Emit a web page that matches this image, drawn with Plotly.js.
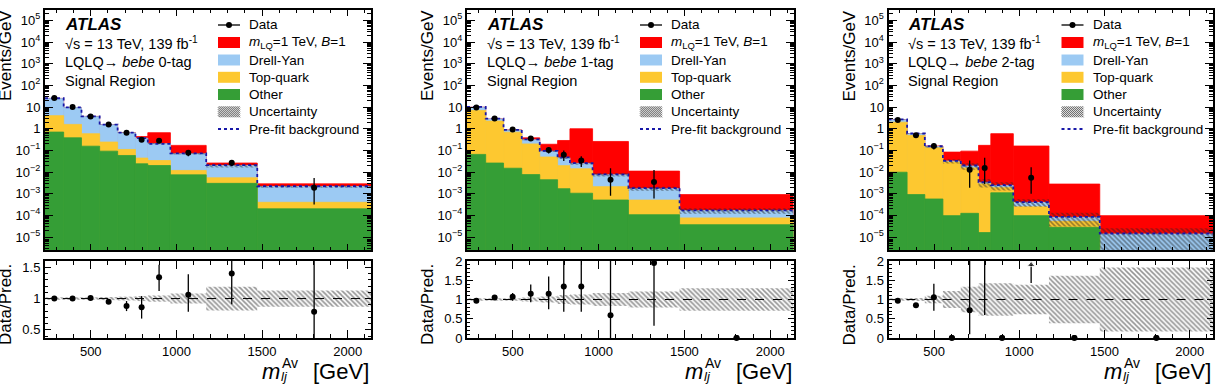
<!DOCTYPE html>
<html>
<head>
<meta charset="utf-8">
<script src="https://cdn.plot.ly/plotly-3.0.1.min.js"></script>
<style>
  html, body { margin: 0; padding: 0; background: #ffffff; }
  #chart { width: 1218px; height: 384px; }
</style>
</head>
<body>
<div id="chart"></div>
<script>
// Average lepton-jet invariant mass in the three b-tag signal regions,
// stacked backgrounds + 1 TeV leptoquark signal, with data/prediction ratio pads.

const binEdges = [233, 342, 446, 552, 657, 761, 833, 965, 1174, 1472, 2136];
const regionNames = ['0-tag', '1-tag', '2-tag'];

// Events/GeV per bin; one row per region (0-tag, 1-tag, 2-tag)
const otherBkg = [
  [0.70, 0.38, 0.156, 0.092, 0.058, 0.024, 0.020, 0.0074, 0.0030, 0.00020],
  [0.065, 0.026, 0.015, 0.0076, 0.0044, 0.0017, 0.00105, 0.00051, 0.000107, 0.000037],
  [0.0098, 0.00091, 0.00057, 0.000097, 0.000124, 0.000016, 0.0011, 0.000097, 0.000028, 0]
];
const topQuark = [
  [3.3, 1.2, 0.43, 0.15, 0.052, 0.020, 0.014, 0.0044, 0.0024, 0.00020],
  [6.9, 2.22, 0.675, 0.19, 0.045, 0.018, 0.013, 0.0016, 0.00040, 0.000039],
  [1.99, 0.489, 0.13, 0.029, 0.0154, 0.0028, 0.0008, 0.00015, 0.000025, 0]
];
const drellYan = [
  [21, 7.9, 3.1, 1.29, 0.54, 0.32, 0.17, 0.058, 0.0146, 0.00174],
  [2.9, 0.55, 0.17, 0.11, 0.042, 0.026, 0.011, 0.0054, 0.0012, 0.000090],
  [0.6, 0.10, 0.02, 0.003, 0.0035, 0.0005, 0.0005, 0.00015, 0.000028, 0.0000138]
];
const signalLQ = [
  [0.0005, 0.001, 0.002, 0.004, 0.01, 0.07, 0.45, 0.10, 0.006, 0.0007],
  [0.005, 0.01, 0.02, 0.07, 0.10, 0.24, 0.97, 0.25, 0.0093, 0.00074],
  [0.002, 0.005, 0.008, 0.051, 0.073, 0.167, 0.588, 0.158, 0.0027, 0.000083]
];
const prefitBkg = [
  [25.5, 9.6, 3.7, 1.55, 0.66, 0.37, 0.20, 0.072, 0.021, 0.0022],
  [10.2, 2.9, 0.88, 0.32, 0.094, 0.047, 0.026, 0.0078, 0.0018, 0.00017],
  [2.7, 0.60, 0.155, 0.033, 0.020, 0.0034, 0.0025, 0.00041, 0.000085, 0.0000145]
];
const bkgRelUnc = [
  [0.02, 0.02, 0.02, 0.025, 0.03, 0.04, 0.05, 0.08, 0.19, 0.13],
  [0.03, 0.03, 0.03, 0.05, 0.08, 0.12, 0.13, 0.17, 0.21, 0.29],
  [0.03, 0.04, 0.10, 0.22, 0.33, 0.42, 0.42, 0.38, 0.62, 0.83]
];
const dataObs = [
  [26, 10, 3.7, 1.55, 0.65, 0.31, 0.28, 0.077, 0.027, 0.00186],
  [9.6, 2.94, 0.92, 0.35, 0.105, 0.062, 0.034, 0.0044, 0.0035, null],
  [2.55, 0.50, 0.16, null, 0.0126, 0.0155, null, 0.0054, null, null]
];
const dataErrUp = [
  [0.5, 0.3, 0.12, 0.08, 0.05, 0.065, 0.042, 0.023, 0.009, 0.0035],
  [0.3, 0.12, 0.09, 0.073, 0.037, 0.037, 0.02, 0.0105, 0.0088, 0],
  [0.08, 0.03, 0.05, 0, 0.021, 0.03, 0, 0.0113, 0, 0]
];
const dataErrDown = [
  [0.5, 0.3, 0.12, 0.08, 0.05, 0.065, 0.042, 0.023, 0.008, 0.00154],
  [0.3, 0.12, 0.09, 0.073, 0.033, 0.03, 0.017, 0.0036, 0.0029, 0],
  [0.08, 0.03, 0.05, 0, 0.0107, 0.0127, 0, 0.0044, 0, 0]
];
const ratioVal = [
  [1.00, 1.00, 1.01, 0.95, 0.88, 0.86, 1.34, 1.06, 1.40, 0.79],
  [0.97, 1.05, 1.07, 1.15, 1.15, 1.34, 1.34, 0.59, 1.95, 0],
  [0.97, 0.85, 1.06, 0, 0.72, 4.7, 0, 13.5, 0, 0]
];
const ratioErrUp = [
  [0.01, 0.015, 0.02, 0.03, 0.08, 0.18, 0.2, 0.33, 0.45, 1.0],
  [0.02, 0.04, 0.1, 0.24, 0.45, 0.8, 0.8, 1.6, 1.0, 0],
  [0.03, 0.06, 0.35, 0, 1.6, 3.0, 0, 10, 0, 0]
];
const ratioErrDown = [
  [0.01, 0.015, 0.02, 0.03, 0.08, 0.18, 0.22, 0.27, 0.49, 0.6],
  [0.02, 0.04, 0.1, 0.22, 0.4, 0.66, 0.66, 0.59, 1.63, 0],
  [0.03, 0.06, 0.35, 0, 0.62, 4.1, 0, 11, 0, 0]
];

// Tick labels
const xTickVals = [500, 1000, 1500, 2000];
const xTickText = ['500', '1000', '1500', '2000'];
const mainTickVals = [1e-5, 1e-4, 1e-3, 1e-2, 1e-1, 1, 10, 1e2, 1e3, 1e4, 1e5];
const mainTickText = ['10<sup>\u22125</sup>', '10<sup>\u22124</sup>', '10<sup>\u22123</sup>', '10<sup>\u22122</sup>',
  '10<sup>\u22121</sup>', '1', '10', '10<sup>2</sup>', '10<sup>3</sup>', '10<sup>4</sup>', '10<sup>5</sup>'];
const ratioTickVals = [[0.5, 1, 1.5], [0, 0.5, 1, 1.5, 2], [0, 0.5, 1, 1.5, 2]];
const ratioTickText = [['0.5', '1', '1.5'], ['0', '0.5', '1', '1.5', '2'], ['0', '0.5', '1', '1.5', '2']];

const legendLabels = ['Data', '<i>m</i><sub>LQ</sub>=1 TeV, <i>B</i>=1', 'Drell-Yan', 'Top-quark',
  'Other', 'Uncertainty', 'Pre-fit background'];

// ---------- geometry & style ----------
const W = 1218, H = 384;
const FONT = '"Liberation Sans", Arial, Helvetica, sans-serif';
const COLORS = { sig: '#ff0000', dy: '#9ccaf3', top: '#fdc830', other: '#359e36',
  prefit: '#1818a8', hatch: '#262626' };
const panelX = [[45, 371], [467, 793.5], [888.5, 1213]];
const mainY = [10, 250], ratioY = [261, 338];
const logRange = [-5.6, 5.48];
const ratioRanges = [[0.37, 1.6], [0, 2], [0, 2]];
const xRange = [binEdges[0], binEdges[binEdges.length - 1]];

const fx = v => v / W;
const fy = v => 1 - v / H;
const centers = binEdges.slice(0, -1).map((e, i) => (e + binEdges[i + 1]) / 2);
const widths = binEdges.slice(0, -1).map((e, i) => binEdges[i + 1] - e);
const add = (a, b) => a.map((v, i) => v + b[i]);
const pos = a => a.map(v => (v > 0 ? v : null));

const minorLog = [];
for (let d = -6; d <= 5; d++) for (let m = 2; m <= 9; m++) minorLog.push(m * Math.pow(10, d));

const traces = [], shapes = [], annotations = [];
const layout = {
  width: W, height: H, margin: { l: 0, r: 0, t: 0, b: 0 },
  paper_bgcolor: '#ffffff', plot_bgcolor: '#ffffff',
  barmode: 'overlay', showlegend: false, hovermode: false,
  font: { family: FONT, color: '#000' }
};

function frameAxis(extra) {
  return Object.assign({
    showline: true, linecolor: '#000', linewidth: 2, mirror: 'allticks',
    ticks: 'inside', tickcolor: '#000', tickwidth: 1,
    showgrid: false, zeroline: false, tickmode: 'array',
    tickfont: { family: FONT, size: 13, color: '#000' }
  }, extra);
}
const sfx = i => (i === 1 ? '' : String(i));

function text(x, y, str, size, opts) {
  annotations.push(Object.assign({
    xref: 'paper', yref: 'paper', x: fx(x), y: fy(y), text: str, showarrow: false,
    xanchor: 'left', yanchor: 'middle', font: { family: FONT, size: size, color: '#000' }
  }, opts || {}));
}

function hatchPath(x0, x1, yTop, yBot, step) {
  const h = yBot - yTop;
  let d = '';
  for (let s = -h; s < (x1 - x0); s += step) {
    let sx = x0 + s, sy = yTop, ex = x0 + s + h, ey = yBot;
    if (sx < x0) { sy += (x0 - sx); sx = x0; }
    if (ex > x1) { ey -= (ex - x1); ex = x1; }
    if (ex <= sx) continue;
    d += 'M' + fx(sx) + ',' + fy(sy) + 'L' + fx(ex) + ',' + fy(ey);
  }
  return d;
}

const hatchMarker = {
  color: 'rgba(0,0,0,0)', line: { width: 0 },
  pattern: { shape: '\\', fgcolor: COLORS.hatch, bgcolor: 'rgba(0,0,0,0)', size: 3.5, solidity: 0.45, fillmode: 'overlay' }
};

regionNames.forEach((region, p) => {
  const mi = 2 * p + 1, ri = 2 * p + 2;
  const xm = 'x' + sfx(mi), ym = 'y' + sfx(mi), xr = 'x' + sfx(ri), yr = 'y' + sfx(ri);
  const [L, R] = panelX[p];
  const dom = [fx(L), fx(R)];
  const rr = ratioRanges[p];

  // axes
  layout['xaxis' + sfx(mi)] = frameAxis({
    domain: dom, range: xRange, anchor: ym, tickvals: xTickVals, ticktext: xTickText,
    showticklabels: false, ticklen: 6,
    minor: { tickmode: 'linear', tick0: 0, dtick: 100, ticklen: 3, ticks: 'inside', tickcolor: '#000' }
  });
  layout['yaxis' + sfx(mi)] = frameAxis({
    type: 'log', domain: [fy(mainY[1]), fy(mainY[0])], range: logRange, anchor: xm,
    tickvals: mainTickVals, ticktext: mainTickText, ticklen: 8,
    minor: { tickmode: 'array', tickvals: minorLog, ticklen: 4, ticks: 'inside', tickcolor: '#000' }
  });
  layout['xaxis' + sfx(ri)] = frameAxis({
    domain: dom, range: xRange, anchor: yr, tickvals: xTickVals, ticktext: xTickText, ticklen: 8,
    minor: { tickmode: 'linear', tick0: 0, dtick: 100, ticklen: 4, ticks: 'inside', tickcolor: '#000' }
  });
  layout['yaxis' + sfx(ri)] = frameAxis({
    domain: [fy(ratioY[1]), fy(ratioY[0])], range: rr, anchor: xr,
    tickvals: ratioTickVals[p], ticktext: ratioTickText[p], ticklen: 6,
    minor: { tickmode: 'linear', tick0: 0, dtick: 0.1, ticklen: 3, ticks: 'inside', tickcolor: '#000' }
  });

  // stacked histograms (cumulative, drawn back to front)
  const c1 = otherBkg[p];
  const c2 = add(c1, topQuark[p]);
  const c3 = add(c2, drellYan[p]);
  const c4 = add(c3, signalLQ[p]);
  [[c4, COLORS.sig], [c3, COLORS.dy], [c2, COLORS.top], [c1, COLORS.other]].forEach(([vals, col]) => {
    traces.push({
      type: 'bar', x: centers, y: pos(vals), width: widths, xaxis: xm, yaxis: ym,
      marker: { color: col, line: { color: col, width: 0.8 } }
    });
  });

  // background uncertainty band
  const u = bkgRelUnc[p];
  traces.push({
    type: 'bar', x: centers, width: widths, xaxis: xm, yaxis: ym,
    base: c3.map((v, i) => (v > 0 ? v * (1 - u[i]) : null)),
    y: c3.map((v, i) => (v > 0 ? 2 * v * u[i] : null)),
    marker: hatchMarker
  });

  // pre-fit background
  const pf = prefitBkg[p];
  traces.push({
    type: 'scatter', mode: 'lines', x: binEdges, y: pf.concat([pf[pf.length - 1]]),
    xaxis: xm, yaxis: ym, line: { shape: 'hv', dash: 'dot', color: COLORS.prefit, width: 1.8 }
  });

  // data
  traces.push({
    type: 'scatter', mode: 'markers', x: centers, y: dataObs[p], xaxis: xm, yaxis: ym,
    marker: { color: '#000', size: 6 },
    error_y: { type: 'data', symmetric: false, array: dataErrUp[p], arrayminus: dataErrDown[p],
      color: '#000', thickness: 1.3, width: 0 }
  });

  // ratio pad: uncertainty band
  traces.push({
    type: 'bar', x: centers, width: widths, xaxis: xr, yaxis: yr,
    base: u.map(e => 1 - e), y: u.map(e => 2 * e), marker: hatchMarker
  });
  shapes.push({
    type: 'line', xref: xr, yref: yr, x0: xRange[0], x1: xRange[1], y0: 1, y1: 1,
    line: { color: '#000', width: 1, dash: 'dash' }, layer: 'above'
  });
  traces.push({
    type: 'scatter', mode: 'markers', x: centers, y: ratioVal[p], xaxis: xr, yaxis: yr,
    marker: { color: '#000', size: 6 },
    error_y: { type: 'data', symmetric: false, array: ratioErrUp[p], arrayminus: ratioErrDown[p],
      color: '#000', thickness: 1.3, width: 0 }
  });
  // empty bins sit on the lower edge of the pad
  const zx = centers.filter((c, i) => ratioVal[p][i] === 0);
  if (zx.length) {
    traces.push({
      type: 'scatter', mode: 'markers', x: zx, y: zx.map(() => 0), xaxis: xr, yaxis: yr,
      cliponaxis: false, marker: { color: '#000', size: 6 }
    });
  }
  // off-scale points: arrow at the top of the pad
  centers.forEach((c, i) => {
    if (ratioVal[p][i] - ratioErrDown[p][i] > rr[1]) {
      traces.push({
        type: 'scatter', mode: 'lines+markers', x: [c, c], y: [rr[1] - 0.57, rr[1] - 0.1],
        xaxis: xr, yaxis: yr, line: { color: '#000', width: 1.3 },
        marker: { symbol: 'triangle-up', size: [0, 7], color: '#000' }
      });
    }
  });

  // ---------- labels ----------
  text(L + 18, 24, '<b><i>ATLAS</i></b>', 17);
  text(L + 18, 43, '\u221As = 13 TeV, 139 fb<sup>-1</sup>', 14.5);
  text(L + 18, 61.5, 'LQLQ\u2192 <i>bebe</i> ' + region, 14.5);
  text(L + 18, 81, 'Signal Region', 14.5);

  text(L - 40, 56, 'Events/GeV', 17, { xanchor: 'center', textangle: -90 });
  text(L - 40, 305, 'Data/Pred.', 17, { xanchor: 'center', textangle: -90 });

  text(R, 371, '[GeV]', 22, { xanchor: 'right' });
  text(R - 111, 371, '<i>m</i>', 22, { xanchor: 'left' });
  text(R - 92, 376.5, '<i>lj</i>', 13, { xanchor: 'left' });
  text(R - 91, 363, 'Av', 14, { xanchor: 'left' });

  // ---------- legend ----------
  const rows = [25, 42.5, 60, 77.3, 94.5, 111.8, 129];
  const bx0 = L + 173, bx1 = L + 195, tx = L + 202, bh = 5.5;
  shapes.push({ type: 'line', xref: 'paper', yref: 'paper', x0: fx(bx0), x1: fx(bx1), y0: fy(rows[0]), y1: fy(rows[0]),
    line: { color: '#000', width: 1.3 } });
  const cx = (bx0 + bx1) / 2;
  shapes.push({ type: 'circle', xref: 'paper', yref: 'paper', x0: fx(cx - 3), x1: fx(cx + 3),
    y0: fy(rows[0] + 3), y1: fy(rows[0] - 3), fillcolor: '#000', line: { width: 0 } });
  [COLORS.sig, COLORS.dy, COLORS.top, COLORS.other].forEach((col, k) => {
    const r = rows[k + 1];
    shapes.push({ type: 'rect', xref: 'paper', yref: 'paper', x0: fx(bx0), x1: fx(bx1),
      y0: fy(r + bh), y1: fy(r - bh), fillcolor: col, line: { width: 0 } });
  });
  shapes.push({ type: 'path', xref: 'paper', yref: 'paper',
    path: hatchPath(bx0, bx1, rows[5] - bh, rows[5] + bh, 2.0), line: { color: '#3a3a3a', width: 0.9 } });
  shapes.push({ type: 'line', xref: 'paper', yref: 'paper', x0: fx(bx0), x1: fx(bx1), y0: fy(rows[6]), y1: fy(rows[6]),
    line: { color: COLORS.prefit, width: 2, dash: 'dot' } });
  legendLabels.forEach((lab, k) => text(tx, rows[k], lab, 13.5));
});

layout.shapes = shapes;
layout.annotations = annotations;
Plotly.newPlot('chart', traces, layout, { staticPlot: true, displayModeBar: false });
</script>
</body>
</html>
